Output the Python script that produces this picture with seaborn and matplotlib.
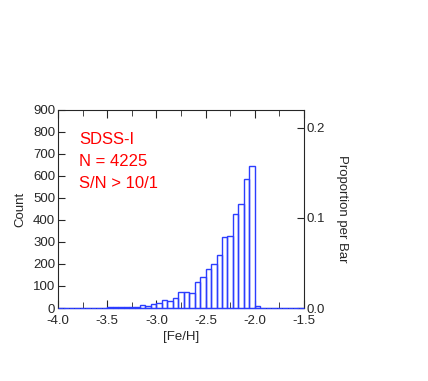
import matplotlib
matplotlib.use('Agg')
import numpy as np
import pandas as pd
import seaborn as sns
import matplotlib.pyplot as plt
from matplotlib.ticker import MultipleLocator

# histogram of [Fe/H], 45 bars between -4.0 and -1.5
x_min, x_max, n_bars = -4.0, -1.5, 45
counts = [1, 0, 1, 1, 1, 2, 1, 2, 2, 3, 3, 4, 3, 6, 4,
          14, 11, 17, 24, 35, 32, 47, 71, 71, 70, 120, 141, 176, 199, 241,
          323, 329, 426, 471, 585, 647, 10, 0, 0, 0, 0, 0, 0, 0, 0]
notes = ['SDSS-I', 'N = 4225', 'S/N > 10/1']

edges = np.linspace(x_min, x_max, n_bars + 1)
df = pd.DataFrame({'feh': (edges[:-1] + edges[1:]) / 2, 'n': counts})
total = sum(counts)

sns.set_style('ticks')
plt.rcParams['font.family'] = ['Liberation Sans', 'DejaVu Sans']
plt.rcParams['axes.unicode_minus'] = False

fig = plt.figure(figsize=(4.28, 3.81), dpi=100)
ax = fig.add_axes([0.1355, 0.1916, 0.5748, 0.5197])

# right axis: proportion per bar (made first so the histogram sits on top)
ax2 = ax.twinx()
ax2.set_ylim(0, 900 / total)
ax2.yaxis.set_major_locator(MultipleLocator(0.1))
ax2.yaxis.set_major_formatter('{x:.1f}')
ax2.tick_params(axis='y', direction='in', length=5, labelsize=9.5, pad=2)
ax2.set_ylabel('Proportion per Bar', fontsize=9.5, rotation=-90, labelpad=16)
for k in ['top', 'bottom', 'left']:
    ax2.spines[k].set_visible(False)
ax2.spines['right'].set_linewidth(0.8)
ax.set_zorder(ax2.get_zorder() + 1)
ax.patch.set_visible(False)

sns.histplot(data=df, x='feh', weights='n', bins=n_bars, binrange=(x_min, x_max),
             fill=False, color='#2b3dff', linewidth=1.0, zorder=3, clip_on=False, ax=ax)

ax.set_xlim(x_min, x_max)
ax.set_ylim(0, 900)
ax.xaxis.set_major_locator(MultipleLocator(0.5))
ax.xaxis.set_minor_locator(MultipleLocator(0.25))
ax.xaxis.set_major_formatter('{x:.1f}')
ax.yaxis.set_major_locator(MultipleLocator(100))
ax.tick_params(axis='x', which='both', direction='in', top=True, labelsize=9.5, pad=5)
ax.tick_params(axis='x', which='major', length=6)
ax.tick_params(axis='x', which='minor', length=4)
ax.tick_params(axis='y', direction='in', length=5, labelsize=9.5, pad=2)
ax.set_xlabel('[Fe/H]', fontsize=9.5, labelpad=3)
ax.set_ylabel('Count', fontsize=9.5, labelpad=5)
ax.spines['right'].set_visible(False)
for s in ax.spines.values():
    s.set_linewidth(0.8)

for i, t in enumerate(notes):
    ax.text(0.085, 0.85 - i * 0.11, t, transform=ax.transAxes, color='red',
            fontsize=12, va='center', ha='left')

fig.savefig('out.png', dpi=100)
